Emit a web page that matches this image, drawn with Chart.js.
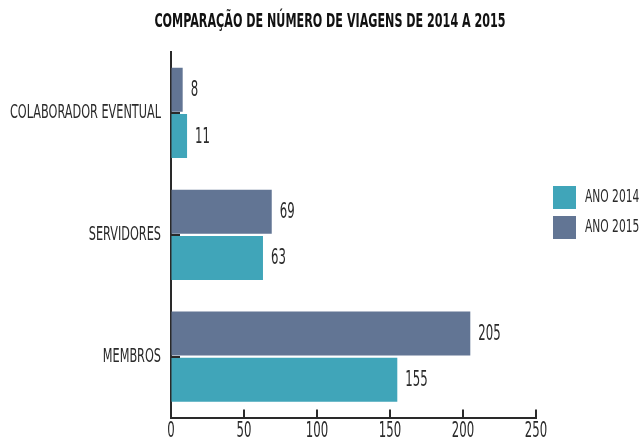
<!DOCTYPE html>
<html>
<head>
<meta charset="utf-8">
<script src="https://cdn.jsdelivr.net/npm/chart.js@4"></script>
<style>
  body { margin: 0; background: #fff; }
  #chart { display: block; }
</style>
</head>
<body>
<canvas id="chart" width="642" height="439"></canvas>
<script>
// data
const categories = ['COLABORADOR EVENTUAL', 'SERVIDORES', 'MEMBROS'];
const seriesNames = ['ANO 2015', 'ANO 2014'];
const values2015 = [8, 69, 205];
const values2014 = [11, 63, 155];
const xTicks = [0, 50, 100, 150, 200, 250];

const FONT = '"DejaVu Sans Condensed", "DejaVu Sans", sans-serif';
const INK = '#2a2a2a';

// the original uses a very narrow display face, so squeeze the text horizontally
const condensePlugin = {
  id: 'condense',
  beforeInit(chart) {
    const ctx = chart.ctx;
    const fill = ctx.fillText;
    ctx.fillText = function (text, x, y) {
      let squeeze = 0.66;
      if (this.font.indexOf('bold') >= 0) squeeze = 0.62;
      else if (/^\d+$/.test(String(text))) squeeze = 0.62;
      this.save();
      this.translate(x, y);
      this.scale(squeeze, 1);
      fill.call(this, text, 0, 0);
      this.restore();
    };
  }
};

// move the legend down next to the middle bars, a bit away from the plot;
// title sits slightly right of centre in the original
const layoutNudge = {
  id: 'layoutNudge',
  afterLayout(chart) {
    chart.legend.left += 10;
    chart.legend.top = chart.chartArea.top + 127;
    chart.titleBlock.left += 9;
    chart.titleBlock.right += 9;
  }
};

// small inward tick marks + value labels
const extrasPlugin = {
  id: 'extras',
  afterDraw(chart) {
    const ctx = chart.ctx;
    const x = chart.scales.x;
    const y = chart.scales.y;
    ctx.save();
    ctx.strokeStyle = INK;
    ctx.lineWidth = 2;
    x.ticks.forEach((t, i) => {
      const px = Math.round(x.getPixelForTick(i));
      ctx.beginPath();
      ctx.moveTo(px, x.top);
      ctx.lineTo(px, x.top - 8);
      ctx.stroke();
    });
    y.ticks.forEach((t, i) => {
      const py = Math.round(y.getPixelForTick(i));
      ctx.beginPath();
      ctx.moveTo(y.right, py);
      ctx.lineTo(y.right + 9, py);
      ctx.stroke();
    });

    ctx.fillStyle = INK;
    ctx.font = '21px ' + FONT;
    ctx.textBaseline = 'middle';
    ctx.textAlign = 'left';
    chart.data.datasets.forEach((ds, di) => {
      chart.getDatasetMeta(di).data.forEach((bar, i) => {
        ctx.fillText(String(ds.data[i]), bar.x + 8, bar.y + 1);
      });
    });
    ctx.restore();
  }
};

new Chart(document.getElementById('chart'), {
  type: 'bar',
  data: {
    labels: categories,
    datasets: [
      {
        label: seriesNames[0],
        data: values2015,
        backgroundColor: '#627594',
        barPercentage: 0.95,
        categoryPercentage: 0.76
      },
      {
        label: seriesNames[1],
        data: values2014,
        backgroundColor: '#40a5b9',
        barPercentage: 0.95,
        categoryPercentage: 0.76
      }
    ]
  },
  options: {
    indexAxis: 'y',
    responsive: false,
    animation: false,
    plugins: {
      title: {
        display: true,
        text: 'COMPARAÇÃO DE NÚMERO DE VIAGENS DE 2014 A 2015',
        color: '#111',
        font: { family: FONT, size: 20, weight: 'bold' },
        padding: { top: 10, bottom: 18 }
      },
      legend: {
        position: 'right',
        align: 'start',
        reverse: true,
        maxWidth: 106,
        labels: {
          boxWidth: 23,
          boxHeight: 23,
          padding: 7,
          color: INK,
          font: { family: FONT, size: 18 }
        }
      },
      tooltip: { enabled: false }
    },
    scales: {
      x: {
        min: 0,
        max: 250,
        afterBuildTicks(scale) {
          scale.ticks = xTicks.map(v => ({ value: v }));
        },
        afterFit(scale) { scale.height = 20; },
        grid: { display: true, drawOnChartArea: false, drawTicks: false },
        border: { display: true, color: INK, width: 2 },
        ticks: {
          padding: 1,
          color: INK,
          font: { family: FONT, size: 21 }
        }
      },
      y: {
        afterFit(scale) { scale.width = 171; },
        grid: { display: true, drawOnChartArea: false, drawTicks: false },
        border: { display: true, color: INK, width: 2 },
        ticks: {
          padding: 10,
          color: INK,
          font: { family: FONT, size: 19 }
        }
      }
    }
  },
  plugins: [condensePlugin, layoutNudge, extrasPlugin]
});
</script>
</body>
</html>
